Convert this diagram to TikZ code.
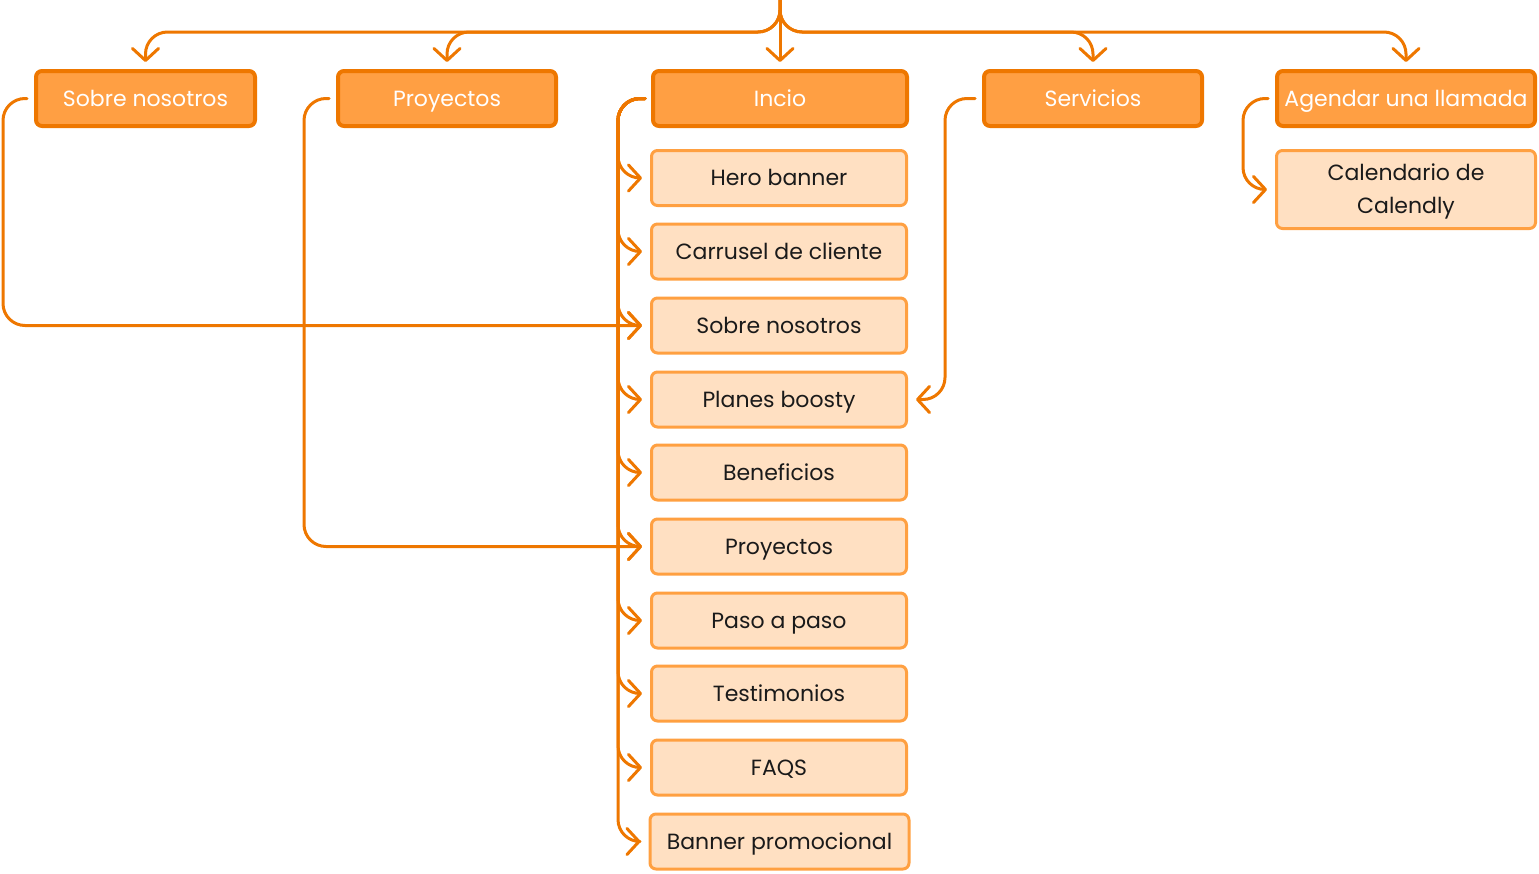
\documentclass[tikz,border=0pt]{standalone}
\usepackage{fontspec}
\setmainfont{Poppins}
\usetikzlibrary{arrows.meta}
\definecolor{lineor}{HTML}{EE7700}
\definecolor{mainfill}{HTML}{FF9F43}
\definecolor{subfill}{HTML}{FFE0C2}
\definecolor{subdraw}{HTML}{FFA041}
\definecolor{txt}{HTML}{1A1A1A}
\begin{document}
\begin{tikzpicture}[x=1pt,y=-1pt,
  mainbox/.style={draw=lineor, fill=mainfill, line width=4pt, rounded corners=6pt,
    minimum height=55pt, text=white, font=\fontsize{22}{33}\selectfont, inner sep=0pt,
    text height=15pt, text depth=0pt},
  subbox/.style={draw=subdraw, fill=subfill, line width=3pt, rounded corners=6pt,
    minimum width=255pt, minimum height=55pt, text=txt, font=\fontsize{22}{33}\selectfont, inner sep=0pt,
    text height=15pt, text depth=0pt},
  conn/.style={draw=lineor, line width=3pt, line cap=round, line join=round,
    -{Straight Barb[length=12pt,width=26pt,line cap=round,line join=round]},
    rounded corners=22pt, shorten >=8pt},
  topconn/.style={conn, shorten >=7pt},
]
\useasboundingbox (0,0) rectangle (1539,873);

% main row
\node[mainbox, minimum width=219pt] (sobre) at (145.5,98.5) {Sobre nosotros};
\node[mainbox, minimum width=218pt] (proy) at (447,98.5) {Proyectos};
\node[mainbox, minimum width=254pt] (incio) at (780,98.5) {Incio};
\node[mainbox, minimum width=218pt] (serv) at (1093,98.5) {Servicios};
\node[mainbox, minimum width=258pt] (agen) at (1406,98.5) {Agendar una llamada};

% sub column
\node[subbox] (hero) at (779,178) {Hero banner};
\node[subbox] (carr) at (779,251.5) {Carrusel de cliente};
\node[subbox] (sobre2) at (779,325.5) {Sobre nosotros};
\node[subbox] (planes) at (779,399.5) {Planes boosty};
\node[subbox] (benef) at (779,472.5) {Beneficios};
\node[subbox] (proy2) at (779,546.5) {Proyectos};
\node[subbox] (paso) at (779,620.5) {Paso a paso};
\node[subbox] (test) at (779,693.5) {Testimonios};
\node[subbox] (faqs) at (779,767.5) {FAQS};
\node[subbox, minimum width=259pt] (banner) at (779.5,841.5) {Banner promocional};

\node[subbox, minimum width=259pt, minimum height=78pt, align=center,
  text height=48pt, text depth=0pt] (cal) at (1406,189.5) {Calendario de\\Calendly};

% top bus
\coordinate (top) at (780,0);
\coordinate (bus) at (0,32);
\foreach \t in {sobre, proy, serv, agen}{
  \draw[topconn] (top) -- (top |- bus) -- (\t.north |- bus) -- (\t.north);
}
\draw[topconn] (top) -- (incio.north);

% column helper coordinates
\coordinate (sL) at ([xshift=-31pt]sobre.west);
\coordinate (pL) at ([xshift=-32pt]proy.west);
\coordinate (iL) at ([xshift=-33pt]incio.west);
\coordinate (vR) at ([xshift=-37pt]serv.west);
\coordinate (aL) at ([xshift=-32pt]agen.west);

% Incio branches
\foreach \s in {hero, carr, sobre2, planes, benef, proy2, paso, test, faqs, banner}{
  \draw[conn] ([xshift=-6pt]incio.west) -- (iL) -- (iL |- \s.west) -- (\s.west);
}

% cross links
\draw[conn] ([xshift=-7pt]sobre.west) -- (sL) -- (sL |- sobre2.west) -- (sobre2.west);
\draw[conn] ([xshift=-7pt]proy.west) -- (pL) -- (pL |- proy2.west) -- (proy2.west);
\draw[conn] ([xshift=-7pt]serv.west) -- (vR) -- (vR |- planes.east) -- (planes.east);
\draw[conn] ([xshift=-7pt]agen.west) -- (aL) -- (aL |- cal.west) -- (cal.west);
\end{tikzpicture}
\end{document}
